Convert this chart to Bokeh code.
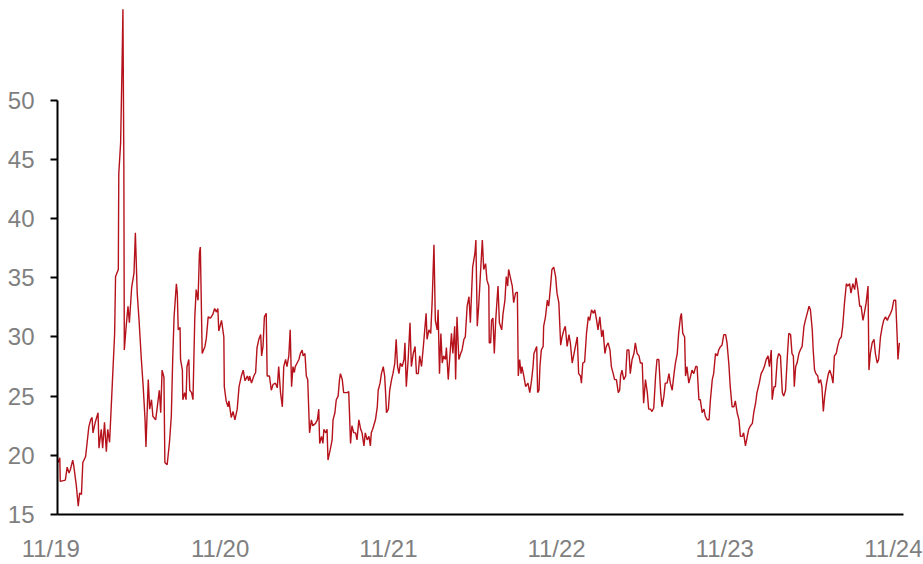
import pandas as pd
from bokeh.plotting import figure
from bokeh.models import Range1d, FixedTicker, DatetimeTickFormatter
from bokeh.embed import file_html
from bokeh.resources import INLINE

# ---- data -------------------------------------------------------------
START = "2019-11-14"          # first observation
SPAN_DAYS = 1836              # length of the x axis in days
x_tick_dates = ["2019-11-01", "2020-11-01", "2021-11-01",
                "2022-11-01", "2023-11-01", "2024-11-01"]
y_ticks = [15, 20, 25, 30, 35, 40, 45, 50]

# (days since START, level)
seg_2019_20 = [(1,19.4),(5,19.8),(6,17.8),(17,17.9),(21,19.0),(25,18.5),(28,18.8),(33,19.6),(35,19.2),
    (41,17.4),(45,15.7),(48,16.8),(52,16.7),(55,19.4),(61,19.9),(68,22.4),(72,23.0),(75,23.2),(77,21.9),
    (82,22.8),(88,23.6),(90,20.6),(95,22.2),(98,20.6),(102,22.8),(106,20.3),(109,22.2),(113,21.1),
    (119,26.1),(124,30.3),(126,35.1),(132,35.7),(133,43.8),(137,46.4),(140,52.8),(142,57.7),(144,44.4),
    (145,28.9),(149,30.9),(153,32.6),(156,31.2),(161,34.2),(166,35.4),(169,38.8),(173,33.7),(177,31.4),
    (182,28.1),(186,25.8),(190,23.0),(192,20.7),(197,26.4),(200,23.9),(204,24.7),(207,23.3),(213,23.0),
    (216,23.9),(221,25.5),(224,23.6),(227,27.2),(231,26.6),(233,19.4),(238,19.2),(243,21.1),(247,23.3),
    (250,28.1),(253,31.7),(258,34.5),(260,33.7),(262,30.6),(266,30.8),(267,28.1),(271,27.2),(272,24.7),
    (276,25.3),(279,24.7),(281,27.5),(285,28.1),(287,25.5),(291,25.3),(294,24.7),(298,31.7),(301,34.0),
    (305,33.1),(308,37.1)]
seg_2020_21 = [(310,37.6),(314,28.6),(320,29.2),(323,29.9),(327,31.7),(332,31.6),(337,31.9),(341,32.4),
    (345,32.1),(348,32.4),(350,30.5),(356,31.4),(361,30.0),(362,25.8),(366,24.6),(370,24.1),(372,24.6),
    (377,23.2),(381,23.7),(385,23.0),(390,23.9),(394,25.8),(399,26.7),(403,27.2),(407,26.3),(412,26.7),
    (415,26.3),(417,26.7),(421,26.1),(426,26.7),(430,27.0),(433,29.1),(437,29.8),(441,30.2),(443,28.4),
    (446,29.2),(449,31.7),(453,32.0),(455,26.7),(460,26.7),(464,25.5),(468,26.0),(473,26.1),(477,25.7),
    (480,27.5),(484,25.3),(488,24.1),(491,27.5),(495,28.1),(498,27.5),(502,28.4),(505,30.6),(508,25.8),
    (511,27.5),(514,27.0),(516,27.5),(520,27.8),(524,28.1),(527,28.6),(531,28.9),(533,28.4),(537,28.6),
    (540,26.7),(543,26.4),(547,21.9),(551,23.0),(554,22.5),(560,22.7),(564,23.0),(567,23.9),(569,21.0),
    (573,21.6),(576,21.0),(578,22.2),(582,21.9),(585,22.2),(587,19.6),(592,20.5),(596,21.3),(598,23.0),
    (602,23.6),(605,24.7),(609,25.0),(612,26.4)]
seg_2021_22 = [(614,26.9),(618,26.4),(621,25.3),(629,25.3),(632,25.4),(636,21.0),(639,22.5),(643,21.9),
    (647,21.9),(650,21.3),(654,23.0),(658,22.2),(661,21.9),(665,20.8),(668,21.9),(672,21.3),(676,21.6),
    (679,20.8),(681,21.9),(684,22.2),(690,23.0),(694,24.1),(696,25.5),(700,26.1),(703,26.9),(707,27.5),
    (710,26.7),(712,25.3),(714,23.6),(718,23.9),(721,25.5),(725,26.4),(728,26.9),(732,27.8),(735,29.8),
    (738,27.5),(741,26.9),(744,27.8),(748,27.5),(752,28.1),(754,29.5),(757,25.8),(761,28.1),(765,31.2),
    (768,27.5),(772,28.6),(776,29.2),(779,26.9),(783,26.9),(786,28.4),(790,27.5),(794,29.2),(797,30.6),
    (800,32.0),(802,29.8),(806,30.6),(810,30.3),(813,32.9),(817,37.8),(820,31.4),(824,30.6),(826,32.3),
    (829,26.9),(832,30.3),(835,27.8),(838,28.4),(842,28.1),(844,29.1),(848,26.4),(851,28.1),(855,30.3),
    (858,28.6),(862,30.9),(864,26.4),(867,31.7),(871,28.1),(875,28.6),(878,28.9),(882,29.8),(885,30.0),
    (889,32.6),(893,33.4),(896,31.2),(898,33.1),(901,35.9),(906,37.1),(908,38.2),(911,30.9),(914,32.6)]
seg_2022_23 = [(918,35.4),(922,38.2),(925,35.7),(929,36.2),(932,34.8),(936,34.3),(937,29.5),(940,29.5),
    (942,31.4),(945,31.6),(948,28.6),(951,31.4),(953,32.6),(956,34.3),(959,31.2),(964,30.6),(967,32.0),
    (971,33.1),(974,35.1),(977,34.3),(979,35.7),(983,35.0),(987,34.3),(990,32.9),(994,33.7),(998,33.8),
    (1000,26.7),(1003,28.1),(1006,26.9),(1008,27.5),(1012,26.7),(1016,25.8),(1021,26.1),(1025,25.3),
    (1029,26.4),(1032,27.5),(1034,28.6),(1037,28.9),(1040,29.2),(1042,25.3),(1045,25.5),(1047,27.5),
    (1050,28.9),(1054,29.2),(1055,30.9),(1059,31.7),(1063,33.1),(1066,32.6),(1070,34.3),(1073,35.7),
    (1077,35.9),(1081,35.1),(1084,33.7),(1088,32.9),(1092,29.3),(1095,30.0),(1099,30.6),(1102,30.9),
    (1106,29.2),(1110,30.2),(1113,29.5),(1117,27.8),(1121,28.6),(1124,29.2),(1128,30.0),(1131,26.9),
    (1135,26.7),(1137,26.1),(1140,27.8),(1144,27.9),(1148,30.3),(1152,31.7),(1155,31.4),(1159,32.3),
    (1163,32.0),(1166,32.3),(1170,31.4),(1173,30.6),(1177,31.7),(1181,30.0),(1184,30.6),(1188,28.6),
    (1191,29.2),(1195,29.5),(1199,28.9),(1202,27.5),(1206,26.9),(1209,26.4),(1213,26.4),(1217,25.3),
    (1220,25.5)]
seg_2023_24a = [(1222,26.7),(1225,27.2),(1229,26.4),(1233,26.7),(1236,28.9),(1240,28.9),(1243,26.9),
    (1247,28.1),(1251,28.6),(1254,29.5),(1258,28.6),(1262,28.4),(1265,27.8),(1269,27.8),(1272,24.4),
    (1276,26.4),(1280,25.3),(1283,23.9),(1287,23.9),(1290,23.7),(1294,24.0),(1298,26.7),(1301,28.1),
    (1305,28.1),(1309,25.3),(1312,24.1),(1316,25.0),(1319,26.1),(1323,26.1),(1327,26.9),(1330,26.1),
    (1334,25.5),(1338,26.9),(1341,27.8),(1345,28.6),(1348,30.3),(1352,31.7),(1354,32.0),(1357,30.3),
    (1361,30.0),(1363,26.7),(1366,27.5),(1370,26.1),(1374,26.7),(1377,27.2),(1381,26.9),(1385,27.5),
    (1388,27.5),(1392,24.7),(1395,24.7),(1399,23.6),(1403,23.9),(1406,23.3),(1410,23.0),(1414,23.0),
    (1417,24.7),(1421,26.4),(1424,26.9),(1428,28.6),(1432,28.4),(1435,28.9),(1439,29.2),(1442,29.3),
    (1446,30.2),(1450,30.2),(1453,29.5),(1457,27.7),(1460,25.8),(1464,24.1),(1468,24.1),(1471,24.6),
    (1475,23.6),(1479,23.0),(1482,21.6),(1486,21.6),(1489,21.9),(1493,20.8),(1497,21.6),(1500,22.2),
    (1504,22.5),(1508,22.7),(1511,23.6),(1515,24.4),(1518,25.3),(1523,26.1)]
seg_2024 = [(1527,26.9),(1531,27.2),(1534,27.5),(1538,28.1),(1542,28.4),(1545,27.5),(1549,28.9),
    (1551,24.7),(1555,25.8),(1558,25.8),(1562,28.1),(1565,28.6),(1569,28.4),(1573,25.3),(1576,25.0),
    (1580,25.5),(1584,28.4),(1587,30.3),(1591,30.2),(1594,28.6),(1597,28.4),(1599,25.8),(1602,27.5),
    (1605,27.8),(1609,28.6),(1612,28.9),(1616,29.2),(1620,30.9),(1623,31.4),(1627,32.0),(1631,32.6),
    (1634,32.3),(1638,30.6),(1640,28.9),(1643,27.2),(1646,26.9),(1650,26.7),(1652,26.1),(1656,26.4),
    (1659,25.8),(1662,23.7),(1665,25.0),(1669,26.1),(1673,26.9),(1676,27.2),(1680,26.7),(1683,26.1),
    (1686,28.4),(1690,28.6),(1693,29.2),(1697,29.8),(1701,30.0),(1704,30.9),(1708,32.9),(1712,34.5),
    (1715,34.3),(1719,34.5),(1722,33.7),(1726,34.5),(1730,34.0),(1733,35.0),(1737,34.0),(1741,32.6),
    (1744,32.6),(1748,31.4),(1751,32.0),(1755,32.9),(1759,34.3),(1761,27.2),(1764,28.6),(1768,29.5),
    (1772,29.8),(1775,28.6),(1779,27.8),(1782,28.1),(1786,30.0),(1790,30.9),(1793,31.4),(1797,31.7),
    (1801,31.4),(1804,31.7),(1808,32.0),(1811,32.3),(1815,33.1),(1819,33.1),(1822,30.3),(1824,28.1),
    (1827,29.5)]

# ---- build ------------------------------------------------------------
pts = seg_2019_20 + seg_2020_21 + seg_2021_22 + seg_2022_23 + seg_2023_24a + seg_2024
days = [d for d, _ in pts]
vals = [v for _, v in pts]
start = pd.Timestamp(START)
dates = start + pd.to_timedelta(days, unit="D")
end = start + pd.Timedelta(days=SPAN_DAYS)

FONT = "Liberation Sans"
GRAY = "#7f7f7f"
RED = "#b5121b"

def ms(ts):
    return pd.Timestamp(ts).value / 1e6

p = figure(width=923, height=564, x_axis_type="datetime",
           x_range=Range1d(start, end), y_range=Range1d(15, 58.43),
           output_backend="svg", toolbar_location=None,
           min_border_left=57, min_border_right=20, min_border_top=0, min_border_bottom=49)
p.outline_line_color = None
p.grid.visible = False
p.background_fill_color = "white"
p.border_fill_color = "white"

p.line(dates, vals, line_color=RED, line_width=1.4)

ya = p.yaxis[0]
ya.ticker = FixedTicker(ticks=y_ticks)
ya.bounds = (15, 50)
ya.minor_tick_line_color = None
ya.major_tick_in = 0
ya.major_tick_out = 7
ya.major_tick_line_width = 2
ya.axis_line_width = 2
ya.axis_line_color = "black"
ya.major_tick_line_color = "black"
ya.major_label_text_font = FONT
ya.major_label_text_font_size = "24px"
ya.major_label_text_color = GRAY
ya.major_label_standoff = 16

# x axis: line plus year labels (first label kept inside the range)
tick_ms = [max(ms(d), ms(start)) for d in x_tick_dates]
fmt = "%m/%y"
xa = p.xaxis[0]
xa.ticker = FixedTicker(ticks=tick_ms)
xa.formatter = DatetimeTickFormatter(microseconds=fmt, milliseconds=fmt, seconds=fmt,
                                     minsec=fmt, minutes=fmt, hourmin=fmt, hours=fmt,
                                     days=fmt, months=fmt, years=fmt, context=None)
xa.major_label_overrides = {tick_ms[0]: "11/19\u00a0\u00a0"}
xa.minor_tick_line_color = None
xa.major_tick_line_color = None
xa.major_tick_in = 0
xa.major_tick_out = 0
xa.axis_line_width = 2
xa.axis_line_color = "black"
xa.major_label_text_font = FONT
xa.major_label_text_font_size = "24px"
xa.major_label_text_color = GRAY
xa.major_label_standoff = 20

open("out.html", "w").write(file_html(p, INLINE))
